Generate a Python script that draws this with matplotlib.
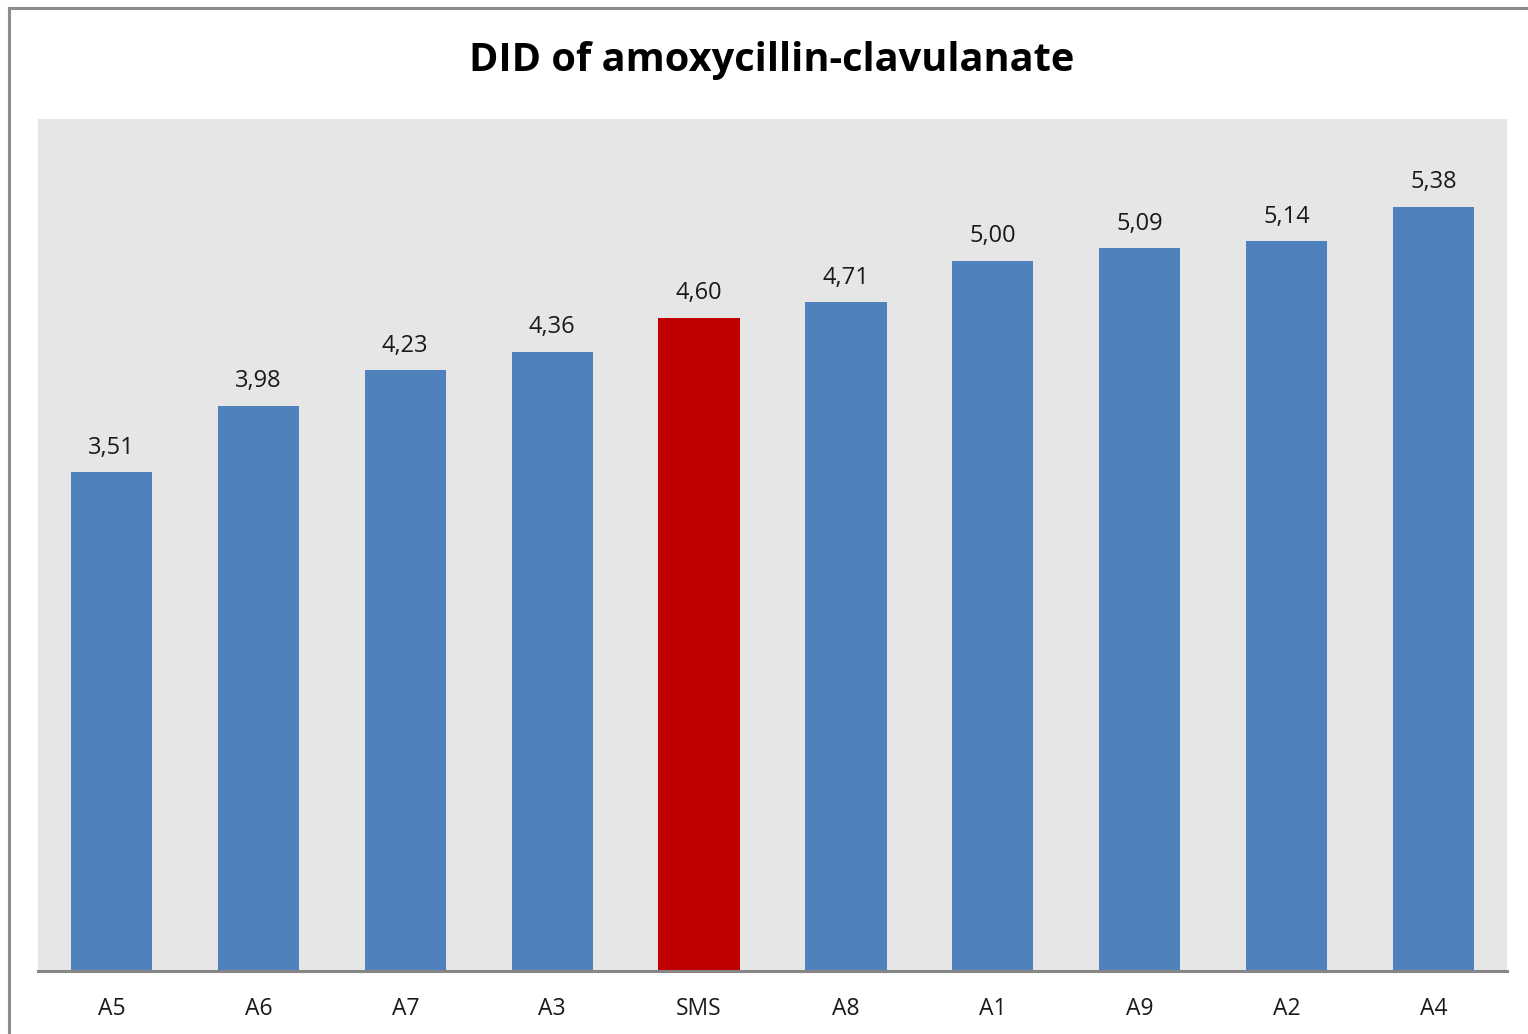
import numpy as np
import matplotlib
matplotlib.use("Agg")
import matplotlib.pyplot as plt
from matplotlib.patches import Rectangle

# data
regions = ["A5", "A6", "A7", "A3", "SMS", "A8", "A1", "A9", "A2", "A4"]
did = [3.51, 3.98, 4.23, 4.36, 4.60, 4.71, 5.00, 5.09, 5.14, 5.38]
highlight = "SMS"

plt.rc('font', family=['Open Sans', 'DejaVu Sans'])

fig = plt.figure(figsize=(15.28, 10.34), dpi=100)
ax = fig.add_axes([38/1528, 1 - 970.5/1034, (1507 - 38)/1528, (970.5 - 119)/1034])

colors = ['#C00000' if r == highlight else '#4F81BD' for r in regions]
x = np.arange(len(regions))
bars = ax.bar(x, did, width=0.553, color=colors, zorder=2)

for xi, v in zip(x, did):
    ax.annotate(f"{v:.2f}".replace('.', ','), (xi, v), xytext=(0, 9),
                textcoords='offset points', ha='center', va='bottom',
                fontsize=17, color='#1a1a1a')

ax.set_facecolor('#E6E6E6')
ax.set_xlim(-0.5, len(regions) - 0.5)
ax.set_ylim(0, 6.0)
ax.set_yticks([])
ax.set_xticks(x)
ax.set_xticklabels(regions, fontsize=16.5, color='#1a1a1a')
ax.tick_params(axis='x', length=0, pad=19)
for s in ['top', 'right', 'left']:
    ax.spines[s].set_visible(False)
ax.spines['bottom'].set_color('#868686')
ax.spines['bottom'].set_linewidth(2.2)

fig.text(772/1528, 1 - 60/1034, "DID of amoxycillin-clavulanate",
         ha='center', va='center', fontsize=28.6, fontweight='bold', color='black')

# outer chart border
fig.patches.append(Rectangle((8.5/1528, -0.1), 1.2, 1 - 7.5/1034 + 0.1,
                             transform=fig.transFigure, fill=False,
                             edgecolor='#8C8C8C', linewidth=2.2))

fig.savefig("out.png", dpi=100)
